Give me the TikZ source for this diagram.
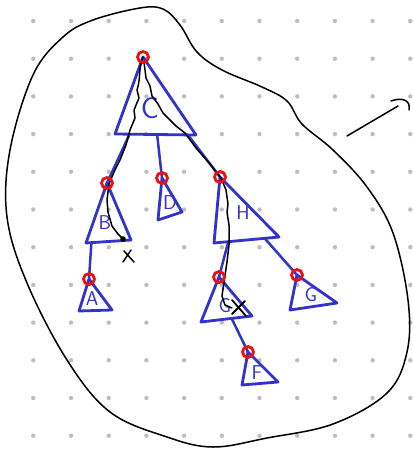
\documentclass[tikz,border=0pt]{standalone}
\usetikzlibrary{calc}
\definecolor{penblue}{RGB}{50,50,205}
\definecolor{penred}{RGB}{240,15,15}
\definecolor{dotgray}{RGB}{190,190,190}
\begin{document}
\begin{tikzpicture}[x=1pt,y=-1pt,
  tri/.style={draw=penblue,line width=2.8pt,line join=round},
  edge/.style={draw=penblue,line width=2.5pt,line cap=round},
  ring/.style={draw=penred,line width=2.8pt},
  ink/.style={draw=black,line width=1.5pt,line cap=round,line join=round},
  lbl/.style={text=penblue,font=\sffamily\fontsize{20}{20}\selectfont,inner sep=0pt},
  biglbl/.style={text=penblue,font=\sffamily\fontsize{30}{30}\selectfont,inner sep=0pt}]
\useasboundingbox (0,0) rectangle (412,452);
\fill[white] (0,0) rectangle (412,452);
% grid dots
\foreach \i in {0,...,10}{\foreach \j in {0,...,11}{
  \fill[dotgray] ({33.3+37.7*\i},{21+37.7*\j}) circle (2.2);}}
% outer blob
\draw[black,line width=1.5pt] plot[smooth cycle,tension=0.6] coordinates {
 (93,20) (140,8) (163,9) (180,25) (197,52) (222,70) (262,87) (287,101)
 (302,124) (333,150) (367,187) (393,233) (408,300) (407,352) (387,393)
 (333,424) (267,438) (213,447) (167,437) (110,412) (67,360) (27,283)
 (7,217) (10,150) (33,75) (63,37)};
% arrow mark at right
\draw[ink] (347,136) -- (398,106);
\draw[ink] (391,101) .. controls (402,97) and (411,100) .. (409,110);
% triangle corners
\coordinate (Ca) at (143,57); \coordinate (Cl) at (115,134); \coordinate (Cr) at (196,135);
\coordinate (Ba) at (107,183); \coordinate (Bl) at (86,243); \coordinate (Br) at (131,240);
\coordinate (Da) at (162,178); \coordinate (Dl) at (158,220); \coordinate (Dr) at (182,212);
\coordinate (Ha) at (220,177); \coordinate (Hl) at (214,243); \coordinate (Hr) at (279,237);
\coordinate (Aa) at (89,279); \coordinate (Al) at (79,311); \coordinate (Ar) at (112,310);
\coordinate (Ea) at (219,277); \coordinate (El) at (201,322); \coordinate (Er) at (252,316);
\coordinate (Ga) at (297,275); \coordinate (Gl) at (290,310); \coordinate (Gr) at (337,303);
\coordinate (Fa) at (248,352); \coordinate (Fl) at (242,385); \coordinate (Fr) at (278,382);
% connectors
\draw[edge] ($(Cl)!0.18!(Cr)$) -- (Ba);
\draw[edge] ($(Cl)!0.52!(Cr)$) -- (Da);
\draw[edge] ($(Cl)!0.9!(Cr)$) -- (Ha);
\draw[edge] ($(Bl)!0.12!(Br)$) -- (Aa);
\draw[edge] ($(Hl)!0.22!(Hr)$) -- (Ea);
\draw[edge] ($(Hl)!0.78!(Hr)$) -- (Ga);
\draw[edge] ($(El)!0.6!(Er)$) -- (Fa);
% triangles
\foreach \t in {C,B,D,H,A,E,G,F}{
  \draw[tri] (\t a) -- (\t l) -- (\t r) -- cycle;}
% labels
\node[biglbl] (lC) at (150,108) {C};
\node[lbl] (lB) at (105,223) {B};
\node[lbl] (lD) at (170,203) {D};
\node[lbl] (lH) at (243,213) {H};
\node[lbl] (lA) at (92,299) {A};
\node[lbl] (lE) at (225,306) {G};
\node[lbl] (lG) at (311,295) {G};
\node[lbl] (lF) at (257,373) {F};
% traversal ink
\draw[ink] (Ca) .. controls (138,70) and (141,78) .. (137,90)
  -- (139,98) -- (134,110) -- (135,118) -- (130,130) -- (126,145)
  -- (120,160) -- (114,172) -- (109,184) -- (107,200) -- (108,212)
  -- (112,226) -- (118,234) -- (123,239);
\fill[black] (123,239) circle (2.8);
\draw[ink] (144,62) -- (146,78) -- (150,86) -- (152,96) -- (158,104)
  -- (163,113) -- (170,120) -- (176,126) -- (185,133) -- (196,148)
  -- (210,164) -- (221,178) -- (226,190) -- (228,204) -- (227,212)
  -- (229,225) -- (229,245) -- (227,262) -- (224,282) -- (222,296)
  -- (225,305) -- (232,308);
% crosses
\draw[ink] (124,251) -- (134,262) (123,262) -- (131,250);
\draw[ink,line width=1.8pt] (232,300) -- (246,316) (232,314) -- (245,301);
% red rings
\foreach \t in {C,B,D,H,A,E,G,F}{
  \draw[ring] (\t a) circle (5.5);}
\end{tikzpicture}
\end{document}
